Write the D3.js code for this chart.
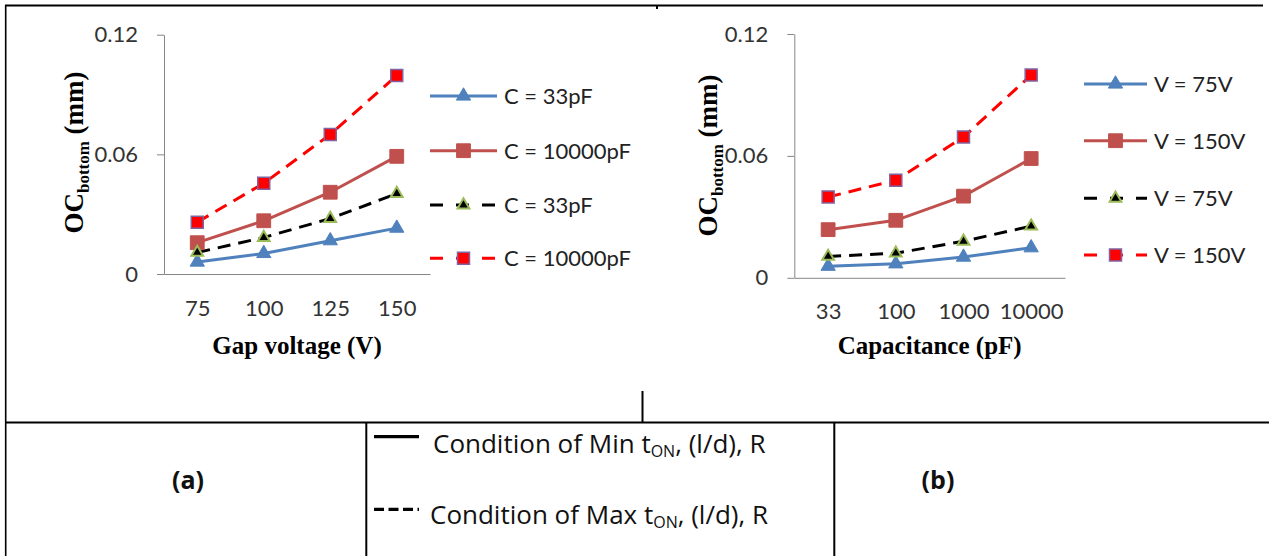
<!DOCTYPE html>
<html>
<head>
<meta charset="utf-8">
<script src="https://cdn.jsdelivr.net/npm/d3@7"></script>
<style>
  html, body { margin: 0; padding: 0; background: #fff; }
  svg { display: block; }
  .tick text { font-family: Lato, "Open Sans", sans-serif; font-size: 22px; fill: #333; }
  .axis path, .axis line { stroke: #868686; stroke-width: 1; }
  .legend-text { font-family: Lato, "Open Sans", sans-serif; font-size: 22px; fill: #222; }
  .axis-title { font-family: "Liberation Serif", "Times New Roman", serif; font-weight: bold; fill: #000; }
  .cell-text { font-family: "Open Sans", Lato, sans-serif; fill: #111; }
</style>
</head>
<body>
<svg id="fig" width="1269" height="556"></svg>
<script>
// ── Data ──
const voltages = ["75", "100", "125", "150"];
const capacitances = ["33", "100", "1000", "10000"];
const yTicks = [0, 0.06, 0.12];

// (a) OC_bottom vs gap voltage
const gapMinC33    = [0.006, 0.0103, 0.0167, 0.023];
const gapMinC10000 = [0.0157, 0.0267, 0.041, 0.059];
const gapMaxC33    = [0.0108, 0.0183, 0.0278, 0.0403];
const gapMaxC10000 = [0.026, 0.0455, 0.070, 0.0995];
const gapLegend = ["C = 33pF", "C = 10000pF", "C = 33pF", "C = 10000pF"];

// (b) OC_bottom vs capacitance
const capMinV75  = [0.0057, 0.0069, 0.0102, 0.0148];
const capMinV150 = [0.0237, 0.0283, 0.0402, 0.0587];
const capMaxV75  = [0.0105, 0.0121, 0.018, 0.0254];
const capMaxV150 = [0.0398, 0.048, 0.0693, 0.0998];
const capLegend = ["V = 75V", "V = 150V", "V = 75V", "V = 150V"];

// ── Series styles (same order in both panels) ──
const styles = [
  { color: "#4f81bd", dash: null, sym: d3.symbolTriangle, size: 88, fill: "#4f81bd", stroke: "#4f81bd", sw: 1 },
  { color: "#c0504d", dash: null, sym: d3.symbolSquare, size: 190, fill: "#c0504d", stroke: "#c0504d", sw: 1 },
  { color: "#000000", dash: "13,8", sym: d3.symbolTriangle, size: 60, fill: "#000000", stroke: "#9bbb59", sw: 2 },
  { color: "#ff0000", dash: "13,8", sym: d3.symbolSquare, size: 144, fill: "#ff0000", stroke: "#8064a2", sw: 1.5 }
];

const svg = d3.select("#fig");
svg.append("rect").attr("width", 1269).attr("height", 556).attr("fill", "#fff");

// ── Table frame ──
const frame = svg.append("g").attr("stroke", "#000").attr("fill", "none");
frame.append("line").attr("x1", 5).attr("x2", 1263).attr("y1", 5.5).attr("y2", 5.5).attr("stroke-width", 2);
frame.append("line").attr("x1", 657).attr("x2", 657).attr("y1", 5).attr("y2", 9).attr("stroke-width", 2);
frame.append("line").attr("x1", 5.7).attr("x2", 5.7).attr("y1", 5).attr("y2", 556).attr("stroke-width", 1.6);
frame.append("line").attr("x1", 5).attr("x2", 1269).attr("y1", 422.5).attr("y2", 422.5).attr("stroke-width", 2);
frame.append("line").attr("x1", 642.5).attr("x2", 642.5).attr("y1", 391).attr("y2", 422).attr("stroke-width", 2);
frame.append("line").attr("x1", 366.3).attr("x2", 366.3).attr("y1", 422).attr("y2", 556).attr("stroke-width", 2);
frame.append("line").attr("x1", 834.3).attr("x2", 834.3).attr("y1", 422).attr("y2", 556).attr("stroke-width", 2);

// ── Chart panel ──
function drawChart(cfg) {
  const g = svg.append("g");

  const x = d3.scalePoint().domain(cfg.categories).range([cfg.x0, cfg.x1]).padding(0.5);
  const y = d3.scaleLinear().domain([0, 0.12]).range([cfg.y0, cfg.y1]);

  g.append("g")
    .attr("class", "axis")
    .attr("transform", `translate(${cfg.x0},0)`)
    .call(d3.axisLeft(y).tickValues(yTicks).tickSize(7).tickSizeOuter(0).tickPadding(19)
      .tickFormat(d => d === 0 ? "0" : d3.format(".2f")(d)));

  g.append("g")
    .attr("class", "axis")
    .attr("transform", `translate(0,${cfg.y0})`)
    .call(d3.axisBottom(x).tickSize(0).tickSizeOuter(0).tickPadding(cfg.xPad));

  const line = d3.line().x((d, i) => x(cfg.categories[i])).y(d => y(d));

  cfg.series.forEach((vals, si) => {
    const st = styles[si];
    g.append("path")
      .datum(vals)
      .attr("d", line)
      .attr("fill", "none")
      .attr("stroke", st.color)
      .attr("stroke-width", 3)
      .attr("stroke-dasharray", st.dash);
  });

  cfg.series.forEach((vals, si) => {
    const st = styles[si];
    g.append("g").selectAll("path")
      .data(vals)
      .join("path")
      .attr("transform", (d, i) => `translate(${x(cfg.categories[i])},${y(d)})`)
      .attr("d", d3.symbol().type(st.sym).size(st.size))
      .attr("fill", st.fill)
      .attr("stroke", st.stroke)
      .attr("stroke-width", st.sw);
  });

  // legend
  const lg = g.append("g");
  cfg.legend.forEach((label, i) => {
    const st = styles[i];
    const ly = cfg.legendY[i];
    const mid = (cfg.lx0 + cfg.lx1) / 2;
    lg.append("line")
      .attr("x1", cfg.lx0).attr("x2", cfg.lx1).attr("y1", ly).attr("y2", ly)
      .attr("stroke", st.color).attr("stroke-width", 3)
      .attr("stroke-dasharray", st.dash ? "13,13" : null);
    lg.append("path")
      .attr("transform", `translate(${mid},${ly})`)
      .attr("d", d3.symbol().type(st.sym).size(st.size))
      .attr("fill", st.fill).attr("stroke", st.stroke).attr("stroke-width", st.sw);
    lg.append("text")
      .attr("class", "legend-text")
      .attr("x", cfg.lx1 + 7).attr("y", ly).attr("dy", "0.36em")
      .text(label);
  });

  // axis titles
  g.append("text")
    .attr("class", "axis-title")
    .attr("x", (cfg.x0 + cfg.x1) / 2)
    .attr("y", 354)
    .attr("text-anchor", "middle")
    .style("font-size", "25px")
    .text(cfg.xTitle);

  const yt = g.append("text")
    .attr("class", "axis-title")
    .attr("transform", `translate(${cfg.yTitleX},${cfg.yTitleY}) rotate(-90)`)
    .attr("text-anchor", "middle")
    .style("font-size", "27px");
  yt.append("tspan").text("OC");
  yt.append("tspan").attr("dy", 6).style("font-size", "17px").text("bottom");
  yt.append("tspan").attr("dy", -6).text(" (mm)");
}

drawChart({
  categories: voltages,
  series: [gapMinC33, gapMinC10000, gapMaxC33, gapMaxC10000],
  legend: gapLegend,
  x0: 164, x1: 430, y0: 274, y1: 34.7, xPad: 26,
  lx0: 430, lx1: 497, legendY: [96, 150.7, 205, 258.3],
  xTitle: "Gap voltage (V)",
  yTitleX: 83, yTitleY: 152.5
});

drawChart({
  categories: capacitances,
  series: [capMinV75, capMinV150, capMaxV75, capMaxV150],
  legend: capLegend,
  x0: 794.3, x1: 1065, y0: 277.8, y1: 34, xPad: 26,
  lx0: 1084, lx1: 1147, legendY: [84, 140.7, 198.3, 255],
  xTitle: "Capacitance (pF)",
  yTitleX: 717, yTitleY: 155.5
});

// ── Bottom cells ──
svg.append("text").attr("class", "cell-text")
  .attr("x", 188).attr("y", 480).attr("dy", "0.36em").attr("text-anchor", "middle")
  .style("font-size", "25px").style("font-weight", "bold").text("(a)");
svg.append("text").attr("class", "cell-text")
  .attr("x", 938).attr("y", 480).attr("dy", "0.36em").attr("text-anchor", "middle")
  .style("font-size", "25px").style("font-weight", "bold").text("(b)");

const key = svg.append("g");
key.append("line").attr("x1", 374).attr("x2", 419).attr("y1", 436.7).attr("y2", 436.7)
  .attr("stroke", "#000").attr("stroke-width", 3.3);
key.append("line").attr("x1", 374).attr("x2", 419).attr("y1", 509.3).attr("y2", 509.3)
  .attr("stroke", "#000").attr("stroke-width", 3.3).attr("stroke-dasharray", "10,4.5");

function conditionText(xPos, yPos, word) {
  const t = key.append("text").attr("class", "cell-text")
    .attr("x", xPos).attr("y", yPos).style("font-size", "26px");
  t.append("tspan").text(`Condition of ${word} t`);
  t.append("tspan").attr("dy", 4).style("font-size", "16px").text("ON");
  t.append("tspan").attr("dy", -4).text(", (l/d), R");
}
conditionText(433, 453, "Min");
conditionText(430, 524, "Max");
</script>
</body>
</html>
